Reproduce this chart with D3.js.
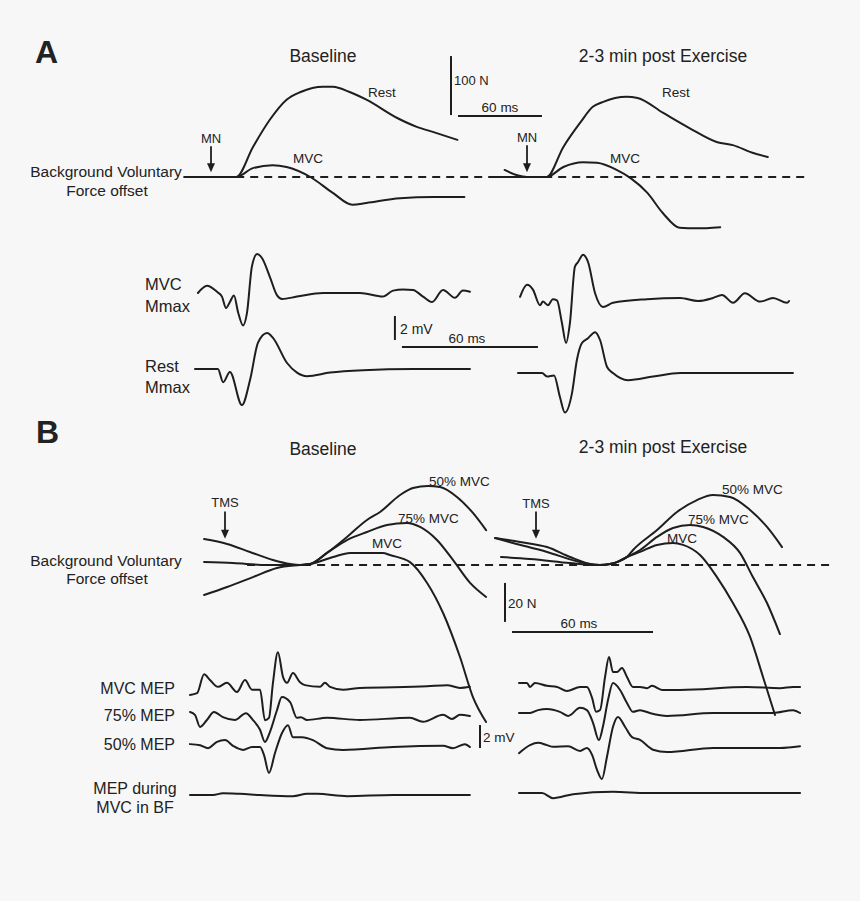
<!DOCTYPE html>
<html>
<head>
<meta charset="utf-8">
<script src="https://cdn.jsdelivr.net/npm/d3@7"></script>
<style>
  body { margin: 0; background: #f7f7f7; }
  svg { display: block; font-family: "Liberation Sans", Arial, sans-serif; }
</style>
</head>
<body>
<svg id="fig" width="860" height="901"></svg>
<script>
// ---- Panel A, force traces: [ms after MN stimulus, N above background force]
const aBaseRest = [[-19,0],[18,0],[30,51],[42,97],[54,131],[64,144],[80,153],[87,153],[99,144],[111,131],[133,100],[147,85],[159,76],[176,63]];
const aBaseMvc = [[-19,0],[18,0],[30,15],[44,20],[54,17],[71,0],[87,-27],[101,-47],[111,-44],[135,-36],[159,-34],[181,-34]];
const aPostRest = [[-24,0],[14,0],[26,51],[38,92],[47,119],[54,127],[71,136],[79,134],[97,109],[116,83],[136,59],[147,54],[161,41],[172,34]];
const aPostMvc = [[-16,12],[-7,3],[0,0],[14,0],[26,17],[40,25],[50,24],[64,12],[74,-2],[86,-27],[97,-61],[109,-86],[121,-87],[138,-85]];

// ---- Panel A, Mmax EMG: [ms, mV]
const aBaseMvcM = [[1.3,0],[5.3,0.6],[9.7,0.1],[11.9,-0.3],[13.7,-1.25],[15.4,-0.75],[17.2,-0.2],[19,-1.6],[21.2,-2.7],[22.9,-1.7],[25.1,2.2],[27.4,3.25],[29.6,2.9],[33.1,1.3],[36.2,-0.2],[38.4,-0.5],[45,-0.3],[56.5,0],[72.8,0],[82.9,-0.3],[87.4,0.2],[91.8,0.3],[96.2,0.25],[100.6,-0.3],[104.6,-0.75],[109.4,0.25],[114.7,-0.4],[118.2,0.2],[121.3,0.1]];
const aBaseRestM = [[0,0],[10.1,0],[12.4,-1.1],[15.4,-0.25],[20.7,-3],[24.3,-0.9],[27.8,2.2],[31.8,3],[34.4,2.6],[40.6,0.5],[45,-0.3],[49.4,-0.6],[59.6,-0.3],[74.1,-0.1],[96.2,0],[121.3,0]];
const aPostMvcM = [[0.9,0.1],[4,1.1],[6.6,0.7],[9.7,-0.6],[11,-0.3],[13.2,-0.6],[15.4,-0.1],[17.2,-0.2],[19.4,-2.1],[21.2,-3.75],[22.9,-2.1],[25.1,2.6],[26.5,3],[28.7,3.6],[30.9,3],[34,0.4],[37.5,-0.75],[41.9,-0.4],[56.9,-0.1],[71.5,0],[79.4,-0.25],[86,0],[90,0.25],[94.9,-0.4],[100.1,0.4],[106.8,-0.3],[112.5,0],[118.7,-0.4],[119.6,-0.25]];
const aPostRestM = [[0,0],[10.6,0],[12.8,-0.3],[15.9,-0.2],[18.5,-2],[20.7,-3.3],[23.8,-1.7],[26,1.1],[28.2,2.5],[30.9,2.9],[34,3.4],[36.2,2.75],[39.3,0.5],[41.9,0],[48.5,-0.6],[59.6,-0.3],[71.5,0],[121.3,0]];

// ---- Panel B, force traces: [ms after TMS, N]
const bBase50 = [[-8.9,13.3],[0.9,10.8],[10.6,6.7],[20.4,2.6],[27.7,0.5],[31.9,0],[36.2,0.5],[43.4,6.2],[51.9,14.4],[60.4,23.1],[66,27.2],[74.5,35.9],[80,39.5],[86.4,40.5],[91.5,40],[98.7,34.9],[105.5,26.7],[111.1,17.9]];
const bBase75 = [[-8.9,-15.4],[0.9,-11.3],[11.9,-6.2],[22.1,-1.5],[31.9,0],[36.2,0.5],[43.4,6.2],[51.9,12.8],[60.4,16.9],[68.9,20.5],[77.4,21.5],[83,19.5],[90.2,12.8],[97,2.6],[104.3,-9.2],[111.1,-16.4]];
const bBaseMvc = [[-8.9,1.5],[3.4,1],[17.9,0],[31.9,0],[36.2,0.5],[46,4.1],[53.2,6.2],[67.2,6.2],[70.2,5.1],[78.7,1.5],[86,-9.2],[92.8,-24.6],[100,-47.2],[105.5,-67.7],[111.1,-80.5]];
const bPost50 = [[-17.4,13.8],[-6.8,11.8],[4.7,9.2],[14.5,4.1],[23,0.5],[27.2,0],[31.5,0.5],[34.5,1.5],[38.7,4.1],[41.3,7.7],[51.5,17.9],[60,27.2],[68.5,33.3],[75.3,35.9],[82.6,34.9],[91.1,28.2],[98.3,19.5],[104.7,9.2]];
const bPost75 = [[-17.4,13.8],[-9.8,11.3],[4.7,6.7],[18.7,1.5],[27.2,0],[31.5,0.5],[34.5,1.5],[38.7,4.1],[44.3,7.7],[51.5,14.4],[58.3,19],[65.5,20.5],[71.1,19.5],[79.6,14.4],[86.8,6.2],[92.3,-6.2],[98.3,-19.5],[103.8,-35.4]];
const bPostMvc = [[-14.9,4.1],[-2.6,3.1],[14.5,1],[24.3,0],[27.2,0],[31.5,0.5],[34.5,1.5],[38.7,4.1],[44.3,6.7],[51.5,10.3],[58.3,11.3],[62.6,10.3],[69.8,5.1],[77,-6.2],[83.8,-19.5],[91.1,-36.9],[96.6,-57.4],[101.7,-76.9]];

// ---- Panel B, MEP EMG: [ms, mV]
const bBaseMvcMep = [[0,-0.6],[3,-0.45],[6,1.2],[8.5,0.7],[11.9,0.1],[15.7,0.45],[20,-0.35],[23.4,0.7],[26.4,-0.15],[29.8,-0.15],[31.9,-2.8],[33.6,-2.6],[35.3,0.45],[37.4,3.1],[39.6,0.95],[41.3,0.45],[43.8,1.3],[46.8,0.5],[48.9,0.25],[55.3,0.1],[57.4,0.45],[59.6,0.1],[65.1,-0.15],[72.3,0],[100.9,0.15],[109.4,0.25],[114.9,0],[119.1,0.1]];
const bBase75Mep = [[0,0.35],[2.1,0.1],[4.3,-0.95],[7.2,-0.35],[10.2,0.35],[14,-0.1],[19.1,-0.35],[23.8,0.25],[26.8,-0.35],[29.8,-1.2],[31.9,-2.25],[34,-1.4],[37,0.5],[39.1,1.65],[42.6,1.2],[45.5,-0.15],[47.2,-0.1],[49.8,-0.35],[58.3,-0.15],[72.3,-0.35],[93.6,-0.15],[99.1,-0.5],[107.7,0.1],[111.5,-0.25],[114.9,0.1],[119.1,0]];
const bBase50Mep = [[0,0.25],[4.3,0.15],[7.7,-0.1],[11.5,0.45],[14.9,0.6],[18.3,0.1],[22.6,-0.25],[26.4,0],[29.8,0],[31.5,-0.7],[33.6,-2.25],[36.2,-0.5],[39.1,1.2],[41.7,1.9],[43.8,0.85],[47.7,0.85],[52.3,0.6],[58.3,-0.1],[65.1,-0.25],[86.4,0],[107.7,0.1],[111.9,-0.1],[117,0.25],[119.1,0]];
const bBaseBf = [[0,0],[9.8,0],[14,0.15],[21.3,0.1],[29.8,0],[43.8,-0.1],[49.8,0.1],[54,0.1],[66.8,-0.1],[86.4,0],[119.1,0]];
const bPostMvcMep = [[0,0.35],[3.4,0.35],[4.7,0],[6.8,0.35],[11.9,0.1],[16.2,0],[20.4,-0.35],[26,0],[28.9,0],[31.1,-0.95],[32.8,-2.15],[34.5,-2],[36.6,0.85],[38.3,2.6],[40,1.3],[41.7,1.3],[43.8,1.65],[46,0.85],[48.5,0],[51.5,0],[54.5,-0.1],[56.6,0.1],[60.9,-0.25],[68.5,-0.25],[97,0],[111.1,-0.1],[116.6,0],[119.6,0]];
const bPost75Mep = [[0,0],[4.7,0],[8.1,0.25],[11.9,0.35],[17.4,0.1],[20.9,-0.25],[26,0.45],[28.9,0.25],[31.5,-0.85],[34,-2.35],[35.7,-1.2],[37.9,1.15],[40,2.6],[43,2],[46,0.85],[48.5,0.1],[51.5,0.25],[55.7,0],[63,-0.25],[82.6,0],[108.1,0],[116.6,0.25],[119.6,0]];
const bPost50Mep = [[0,-0.45],[4.7,0.25],[8.1,0.45],[11.9,0.25],[14.5,0.1],[20.9,0.15],[26,-0.25],[28.9,0],[31.1,-0.6],[33.2,-1.9],[35.3,-2.7],[37.4,-0.8],[40,1.85],[42.1,2.7],[45.1,1.85],[48.1,0.95],[51.5,0.7],[57,-0.15],[63,-0.35],[82.6,0],[111.1,0],[119.6,0.15]];
const bPostBf = [[0,0],[9.8,0],[14.5,-0.45],[23,-0.1],[40,0.1],[54.5,0],[119.6,0]];

// ---- drawing
const ink = "#1e1e1e";
const svg = d3.select("#fig");
svg.append("rect").attr("width", 860).attr("height", 901).attr("fill", "#f7f7f7");

// scales for one column: x in ms, y in N or mV
function panel(x0, pxPerMs, y0, pxPerUnit) {
  return {
    x: d3.scaleLinear().domain([0, 60]).range([x0, x0 + 60 * pxPerMs]),
    y: d3.scaleLinear().domain([0, 1]).range([y0, y0 - pxPerUnit])
  };
}

function trace(p, data, width = 2) {
  const gen = d3.line()
    .x((d) => p.x(d[0]))
    .y((d) => p.y(d[1]))
    .curve(d3.curveMonotoneX);
  svg.append("path")
    .datum(data)
    .attr("d", gen)
    .attr("fill", "none")
    .attr("stroke", ink)
    .attr("stroke-width", width)
    .attr("stroke-linejoin", "round")
    .attr("stroke-linecap", "round");
}

function seg(p, t1, v1, t2, v2, dash) {
  const l = svg.append("line")
    .attr("x1", p.x(t1)).attr("y1", p.y(v1))
    .attr("x2", p.x(t2)).attr("y2", p.y(v2))
    .attr("stroke", ink).attr("stroke-width", 2);
  if (dash) l.attr("stroke-dasharray", dash);
}

function arrow(p, t, vTop, vTip) {
  const x = p.x(t), y1 = p.y(vTop), y2 = p.y(vTip);
  svg.append("line").attr("x1", x).attr("x2", x).attr("y1", y1).attr("y2", y2 - 6)
    .attr("stroke", ink).attr("stroke-width", 1.8);
  svg.append("path")
    .attr("d", `M${x - 4},${y2 - 9}L${x + 4},${y2 - 9}L${x},${y2}Z`)
    .attr("fill", ink);
}

function label(x, y, txt, size, anchor = "start", weight = "normal") {
  svg.append("text")
    .attr("x", x).attr("y", y)
    .attr("font-size", size)
    .attr("font-weight", weight)
    .attr("text-anchor", anchor)
    .attr("fill", "#222")
    .text(txt);
}

// Panel A force
const aBase = panel(211, 1.4, 177, 0.59);
const aPost = panel(527, 1.4, 177, 0.59);
seg(aBase, 18, 0, 426, 0, "8,6");
trace(aBase, aBaseRest);
trace(aBase, aBaseMvc);
trace(aPost, aPostRest);
trace(aPost, aPostMvc);
arrow(aBase, 0, 52, 8);
arrow(aPost, 0, 54, 8);
// 100 N / 60 ms scale bar
seg(aPost, -54.3, 105, -54.3, 205);
seg(aPost, -49.3, 103.4, 10.7, 103.4);

// Panel A Mmax
const aBaseM1 = panel(195, 136 / 60, 293, 12);
const aBaseM2 = panel(195, 136 / 60, 369, 12);
const aPostM1 = panel(518, 136 / 60, 298, 12);
const aPostM2 = panel(518, 136 / 60, 373, 12);
trace(aBaseM1, aBaseMvcM);
trace(aBaseM2, aBaseRestM);
trace(aPostM1, aPostMvcM);
trace(aPostM2, aPostRestM);
seg(aBaseM2, 88.2, 2.42, 88.2, 4.42);
seg(aBaseM2, 91.3, 1.83, 151.3, 1.83);

// Panel B force
const bBase = panel(225, 2.35, 565, 1.95);
const bPost = panel(536, 2.35, 565, 1.95);
seg(bBase, 9.4, 0, 257.4, 0, "8,6");
trace(bBase, bBase50);
trace(bBase, bBase75);
trace(bBase, bBaseMvc);
trace(bPost, bPost50);
trace(bPost, bPost75);
trace(bPost, bPostMvc);
arrow(bBase, 0, 27.5, 13.5);
arrow(bPost, 0, 27.5, 13.5);
// 20 N / 60 ms scale bar
seg(bPost, -13.2, -9.2, -13.2, -29.2);
seg(bPost, -10.2, -34.4, 49.8, -34.4);

// Panel B MEPs
const bBaseE = [688, 716, 747, 795].map((y0) => panel(190, 2.35, y0, 11.5));
const bPostE = [687, 713, 748, 793].map((y0) => panel(519, 2.35, y0, 11.5));
trace(bBaseE[0], bBaseMvcMep);
trace(bBaseE[1], bBase75Mep);
trace(bBaseE[2], bBase50Mep);
trace(bBaseE[3], bBaseBf);
trace(bPostE[0], bPostMvcMep);
trace(bPostE[1], bPost75Mep);
trace(bPostE[2], bPost50Mep);
trace(bPostE[3], bPostBf);
seg(bBaseE[2], 123.4, -0.09, 123.4, 1.91);

// ---- text
label(35, 63, "A", 32, "start", "bold");
label(36, 443, "B", 32, "start", "bold");

label(323, 62, "Baseline", 17.5, "middle");
label(663, 62, "2-3 min post Exercise", 17.5, "middle");
label(323, 455, "Baseline", 17.5, "middle");
label(663, 453, "2-3 min post Exercise", 17.5, "middle");

label(106, 177, "Background Voluntary", 15.5, "middle");
label(107, 196, "Force offset", 15.5, "middle");
label(106, 566, "Background Voluntary", 15.5, "middle");
label(107, 584, "Force offset", 15.5, "middle");

label(211, 143, "MN", 13, "middle");
label(527, 142, "MN", 13, "middle");
label(368, 97, "Rest", 13.5);
label(662, 97, "Rest", 13.5);
label(293, 163, "MVC", 13.5);
label(610, 163, "MVC", 13.5);
label(454, 85, "100 N", 13);
label(500, 112, "60 ms", 13.5, "middle");

label(145, 290, "MVC", 16.5);
label(145, 312, "Mmax", 16.5);
label(145, 372, "Rest", 16.5);
label(145, 393, "Mmax", 16.5);
label(400, 334, "2 mV", 14);
label(467, 343, "60 ms", 13.5, "middle");

label(225, 507, "TMS", 13, "middle");
label(536, 508, "TMS", 13, "middle");
label(429, 486, "50% MVC", 13.5);
label(398, 523, "75% MVC", 13.5);
label(372, 548, "MVC", 13.5);
label(722, 494, "50% MVC", 13.5);
label(688, 524, "75% MVC", 13.5);
label(667, 543, "MVC", 13.5);
label(508, 608, "20 N", 13.5);
label(579, 628, "60 ms", 13.5, "middle");

label(175, 694, "MVC MEP", 16, "end");
label(175, 721, "75% MEP", 16, "end");
label(175, 750, "50% MEP", 16, "end");
label(135, 794, "MEP during", 16, "middle");
label(135, 813, "MVC in BF", 16, "middle");
label(483, 742, "2 mV", 13.5);
</script>
</body>
</html>
